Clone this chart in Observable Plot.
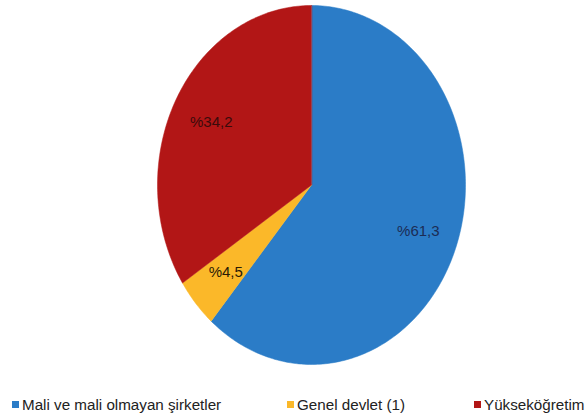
<!DOCTYPE html>
<html>
<head>
<meta charset="utf-8">
<script src="https://cdn.jsdelivr.net/npm/d3@7"></script>
<script src="https://cdn.jsdelivr.net/npm/@observablehq/plot@0.6"></script>
<style>
  html, body { margin: 0; padding: 0; background: #fff; }
  #chart svg { display: block; }
  #legend { position: relative; width: 586px; height: 39px; font-family: "Liberation Sans", Arial, sans-serif; font-size: 15.2px; color: #222; }
  .item { position: absolute; top: 16px; display: flex; align-items: center; white-space: nowrap; line-height: 17px; }
  .sw { width: 7px; height: 7px; margin-right: 3px; display: inline-block; }
</style>
</head>
<body>
<div id="chart"></div>
<div id="legend"></div>
<script>
// Data
const categories = ["Mali ve mali olmayan şirketler", "Genel devlet (1)", "Yükseköğretim"];
const shares = [61.3, 4.5, 34.2];
const labels = ["%61,3", "%4,5", "%34,2"];
const colors = ["#2b7cc7", "#fbb829", "#b21616"];
const labelColors = ["#1c2c55", "#2a1a05", "#3a0b0b"];
const legendLeft = [12, 287, 474];

// Build pie geometry (angles clockwise from top)
const arcs = d3.pie().sort(null).value(d => d)(shares);
const polys = [];
const labelPts = [];
arcs.forEach((a, i) => {
  polys.push({name: categories[i], x: 0, y: 0});
  const steps = Math.max(4, Math.ceil((a.endAngle - a.startAngle) / (Math.PI / 180)));
  for (let k = 0; k <= steps; k++) {
    const t = a.startAngle + (a.endAngle - a.startAngle) * k / steps;
    polys.push({name: categories[i], x: Math.sin(t), y: Math.cos(t)});
  }
  const m = (a.startAngle + a.endAngle) / 2;
  const r = 0.74;
  labelPts.push({name: categories[i], label: labels[i], x: r * Math.sin(m), y: r * Math.cos(m), c: labelColors[i]});
});

const plot = Plot.plot({
  width: 586,
  height: 380,
  marginLeft: 157,
  marginRight: 121,
  marginTop: 5,
  marginBottom: 16,
  x: {domain: [-1, 1], axis: null},
  y: {domain: [-1, 1], axis: null},
  color: {domain: categories, range: colors},
  marks: [
    Plot.line(polys, {x: "x", y: "y", z: "name", fill: "name", stroke: "name", strokeWidth: 0.5, curve: "linear-closed"}),
    Plot.text(labelPts, {x: "x", y: "y", text: "label", fill: d => d.c, fontSize: 15, fontFamily: "Liberation Sans, Arial, sans-serif", letterSpacing: "-0.4px"})
  ]
});
document.getElementById("chart").appendChild(plot);

const legend = document.getElementById("legend");
categories.forEach((c, i) => {
  const it = document.createElement("div");
  it.className = "item";
  it.style.left = legendLeft[i] + "px";
  const sw = document.createElement("span");
  sw.className = "sw";
  sw.style.background = colors[i];
  const tx = document.createElement("span");
  tx.textContent = c;
  it.appendChild(sw);
  it.appendChild(tx);
  legend.appendChild(it);
});
</script>
</body>
</html>
